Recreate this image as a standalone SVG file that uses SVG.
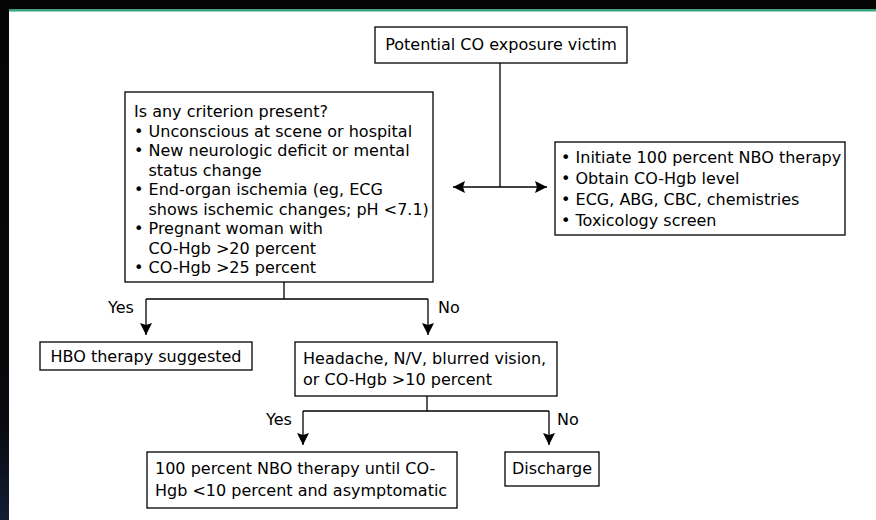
<svg xmlns="http://www.w3.org/2000/svg" width="876" height="520" viewBox="0 0 876 520">
  <defs>
    <linearGradient id="edge" x1="0" y1="0" x2="0" y2="1">
      <stop offset="0" stop-color="#050505"/>
      <stop offset="0.8" stop-color="#08090c"/>
      <stop offset="1" stop-color="#121d33"/>
    </linearGradient>
    <marker id="arrow" viewBox="0 0 12 12" refX="12" refY="6" markerWidth="12" markerHeight="12" markerUnits="userSpaceOnUse" orient="auto">
      <path d="M0,0 L12,6 L0,12 L2,6 Z" fill="#000"/>
    </marker>
  </defs>
  <style>
    .box { fill: #fff; stroke: #000; stroke-width: 1.3; }
    .line { fill: none; stroke: #000; stroke-width: 1.3; }
    text { font-family: "DejaVu Sans", Verdana, sans-serif; font-size: 16px; fill: #000; }
    .mid { text-anchor: middle; }
  </style>

  <!-- page frame -->
  <rect x="0" y="0" width="876" height="520" fill="#fff"/>
  <rect x="0" y="0" width="876" height="9" fill="#050505"/>
  <rect x="0" y="0" width="9" height="520" fill="url(#edge)"/>
  <rect x="9" y="9" width="867" height="2.5" fill="#3aa37e"/>

  <!-- connectors -->
  <g id="connectors">
    <path class="line" d="M500,63 V187"/>
    <path class="line" d="M500,187 H453" marker-end="url(#arrow)"/>
    <path class="line" d="M500,187 H547" marker-end="url(#arrow)"/>
    <path class="line" d="M284,282 V299 M146,299 H428"/>
    <path class="line" d="M146,299 V335" marker-end="url(#arrow)"/>
    <path class="line" d="M428,299 V335" marker-end="url(#arrow)"/>
    <path class="line" d="M427,396 V411 M303,411 H549"/>
    <path class="line" d="M303,411 V445" marker-end="url(#arrow)"/>
    <path class="line" d="M549,411 V445" marker-end="url(#arrow)"/>
    <text x="108" y="313">Yes</text>
    <text x="438" y="313">No</text>
    <text x="266" y="425">Yes</text>
    <text x="557" y="425">No</text>
  </g>

  <g id="start">
    <rect class="box" x="375" y="27" width="252" height="36"/>
    <text class="mid" x="501" y="50">Potential CO exposure victim</text>
  </g>

  <g id="criteria">
    <rect class="box" x="125" y="92" width="308" height="190"/>
    <text x="134" y="117">Is any criterion present?</text>
    <text x="134" y="136.5">• Unconscious at scene or hospital</text>
    <text x="134" y="156">• New neurologic deficit or mental</text>
    <text x="148.5" y="175.5">status change</text>
    <text x="134" y="195">• End-organ ischemia (eg, ECG</text>
    <text x="148.5" y="214.5">shows ischemic changes; pH &lt;7.1)</text>
    <text x="134" y="234">• Pregnant woman with</text>
    <text x="148.5" y="253.5">CO-Hgb &gt;20 percent</text>
    <text x="134" y="273">• CO-Hgb &gt;25 percent</text>
  </g>

  <g id="initial-care">
    <rect class="box" x="555" y="142" width="290" height="93"/>
    <text x="561" y="163">• Initiate 100 percent NBO therapy</text>
    <text x="561" y="184">• Obtain CO-Hgb level</text>
    <text x="561" y="205">• ECG, ABG, CBC, chemistries</text>
    <text x="561" y="226">• Toxicology screen</text>
  </g>

  <g id="hbo">
    <rect class="box" x="40" y="342" width="212" height="28"/>
    <text class="mid" x="146" y="362">HBO therapy suggested</text>
  </g>

  <g id="symptoms">
    <rect class="box" x="295" y="342" width="262" height="54"/>
    <text x="303" y="364">Headache, N/V, blurred vision,</text>
    <text x="303" y="385">or CO-Hgb &gt;10 percent</text>
  </g>

  <g id="nbo">
    <rect class="box" x="147" y="452" width="310" height="56"/>
    <text x="155" y="474">100 percent NBO therapy until CO-</text>
    <text x="155" y="496">Hgb &lt;10 percent and asymptomatic</text>
  </g>

  <g id="discharge">
    <rect class="box" x="505" y="452" width="94" height="34"/>
    <text class="mid" x="552" y="474">Discharge</text>
  </g>
</svg>
